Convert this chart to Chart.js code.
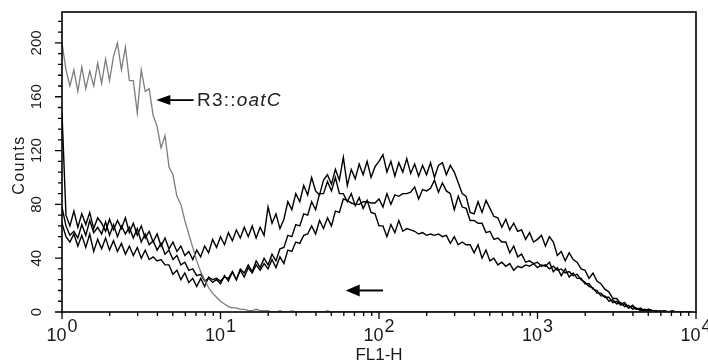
<!DOCTYPE html>
<html>
<head>
<meta charset="utf-8">
<script src="https://cdn.jsdelivr.net/npm/chart.js@4/dist/chart.umd.min.js"></script>
<style>
  html, body { margin: 0; padding: 0; background: #fff; }
  #wrap { width: 708px; height: 364px; }
</style>
</head>
<body>
<div id="wrap"><canvas id="c" width="708" height="364"></canvas></div>
<script>
// FL1-H histogram: 160 channels over four log decades (40 channels per decade)
const channelsPerDecade = 40;
const decadeExponents = ['0', '1', '2', '3', '4'];
const countTicks = [0, 40, 80, 120, 160, 200];
const xTitle = 'FL1-H';
const yTitle = 'Counts';
const strainLabel = ['R3::', 'oatC'];

// R3::oatC (grey trace)
const oatC = [
  200,180,168,180,164,182,166,179,168,185,
  170,188,172,190,200,180,197,172,172,148,
  180,164,166,146,138,122,131,108,102,86,
  80,68,58,48,38,30,24,18,14,11,
  8,6,4,3,3,2,2,1,1,2,
  1,1,1,0,0,1,0,0,1,0,
  0,0,0,0,0,0,0,1,0,0,
  0,0,0,0,0,0,0,0,0,0,
  0,0,0,0,0,0,0,0,0,0,
  0,0,0,0,0,0,0,0,0,0,
  0,0,0,0,0,0,0,0,0,0,
  0,0,0,0,0,0,0,0,0,0,
  0,0,0,0,0,0,0,0,0,0,
  0,0,0,0,0,0,0,0,0,0,
  0,0,0,0,0,0,0,0,0,0,
  0,0,0,0,0,0,0,0,0,0
];

// black traces
const traceA = [
  148,72,64,75,63,73,65,74,62,70,
  66,60,69,61,68,62,70,59,66,57,
  64,55,60,52,58,49,55,47,52,45,
  49,42,45,39,46,41,49,44,54,48,
  56,50,59,53,61,55,63,56,64,55,
  63,57,78,66,73,62,69,82,76,88,
  82,94,87,100,90,87,98,102,95,106,
  98,115,94,106,99,110,102,112,100,108,
  112,117,104,112,101,111,104,114,103,110,
  101,109,102,111,100,109,111,102,109,104,
  96,88,86,74,73,82,74,83,77,71,
  70,63,69,61,66,60,61,54,59,52,
  54,57,49,56,52,42,45,38,44,39,
  37,32,31,25,29,23,21,17,15,10,
  10,6,7,3,5,2,3,1,2,1,
  1,0,1,0,1,0,0,0,0,0
];

const traceB = [
  78,64,57,60,55,65,57,68,59,63,
  58,67,57,65,56,64,58,63,55,62,
  52,58,50,53,46,51,43,46,39,42,
  35,37,31,32,27,28,23,25,22,24,
  21,27,23,30,24,31,26,33,29,35,
  31,36,32,39,33,41,36,46,45,52,
  51,57,58,64,58,68,62,70,64,75,
  74,84,83,81,80,80,82,82,81,81,
  84,78,88,80,87,86,88,88,89,93,
  84,91,90,92,98,89,96,90,88,76,
  86,78,77,68,68,66,66,59,60,54,
  55,52,52,44,49,41,43,37,38,36,
  37,34,35,32,34,31,32,29,30,27,
  28,24,22,19,18,14,14,11,11,7,
  8,5,6,3,4,2,2,1,2,1,
  1,0,1,0,0,0,0,0,0,0
];

const traceC = [
  66,56,52,58,49,57,48,58,45,54,
  47,55,46,53,45,51,43,49,42,48,
  40,46,39,41,38,39,35,35,28,31,
  24,29,22,25,19,25,19,26,24,25,
  23,26,25,30,24,32,29,35,30,38,
  33,40,35,43,38,47,48,57,56,65,
  64,73,72,82,76,88,88,97,90,100,
  88,88,82,88,79,85,77,83,74,73,
  64,64,56,65,59,68,60,62,61,60,
  58,59,57,58,57,58,56,57,51,56,
  50,52,50,50,44,50,40,46,38,40,
  35,37,34,36,31,34,33,35,34,36,
  33,35,34,37,30,33,27,32,26,29,
  25,25,21,21,17,16,12,12,8,9,
  6,7,4,5,2,3,1,2,1,1,
  0,1,0,0,0,0,0,0,0,0
];

const channels = oatC.map((_, i) => i);
const toPoints = arr => arr.map((v, i) => ({ x: channels[i], y: v }));

// annotation anchors in data units (channel, count)
const labelArrow = { tip: [23.8, 157.5], tail: [33.2, 157.5], text: [34.1, 157.5] };
const lowArrow = { tip: [71.6, 16], tail: [81, 16] };

const FONT = '"Liberation Sans", Arial, sans-serif';

function drawArrow(ctx, x1, y1, x2, y2, headLen, headHalf, lw) {
  // x1,y1 = tail ; x2,y2 = tip
  const ang = Math.atan2(y2 - y1, x2 - x1);
  ctx.lineWidth = lw;
  ctx.beginPath();
  ctx.moveTo(x1, y1);
  ctx.lineTo(x2 - Math.cos(ang) * headLen * 0.8, y2 - Math.sin(ang) * headLen * 0.8);
  ctx.stroke();
  ctx.beginPath();
  ctx.moveTo(x2, y2);
  ctx.lineTo(x2 - Math.cos(ang) * headLen - Math.sin(ang) * headHalf, y2 - Math.sin(ang) * headLen + Math.cos(ang) * headHalf);
  ctx.lineTo(x2 - Math.cos(ang) * headLen + Math.sin(ang) * headHalf, y2 - Math.sin(ang) * headLen - Math.cos(ang) * headHalf);
  ctx.closePath();
  ctx.fill();
}

const axesPlugin = {
  id: 'histAxes',
  afterDatasetsDraw(chart) {
    const { ctx, chartArea: a, scales: { x, y } } = chart;
    ctx.save();
    ctx.strokeStyle = '#000';
    ctx.fillStyle = '#000';

    // frame
    ctx.lineWidth = 1.6;
    ctx.strokeRect(a.left, a.top, a.right - a.left, a.bottom - a.top);

    // x ticks (log decades with 2..9 minors)
    ctx.lineWidth = 1.3;
    ctx.beginPath();
    for (let d = 0; d < decadeExponents.length - 1; d++) {
      for (let k = 1; k < 10; k++) {
        const px = x.getPixelForValue(channelsPerDecade * (d + Math.log10(k)));
        const len = k === 1 ? 7 : 4;
        ctx.moveTo(px, a.bottom);
        ctx.lineTo(px, a.bottom + len);
      }
    }
    const pEnd = x.getPixelForValue(channelsPerDecade * (decadeExponents.length - 1));
    ctx.moveTo(pEnd, a.bottom);
    ctx.lineTo(pEnd, a.bottom + 7);
    ctx.stroke();

    // y ticks every 8 counts, longer at labelled values
    ctx.beginPath();
    for (let v = 0; v <= y.max; v += 8) {
      const py = y.getPixelForValue(v);
      const len = countTicks.includes(v) ? 7 : 4;
      ctx.moveTo(a.left, py);
      ctx.lineTo(a.left - len, py);
    }
    ctx.stroke();

    ctx.fillStyle = '#1a1a1a';

    // x tick labels 10^n
    ctx.font = '18px ' + FONT;
    ctx.textAlign = 'left';
    ctx.textBaseline = 'alphabetic';
    decadeExponents.forEach((e, i) => {
      const px = x.getPixelForValue(channelsPerDecade * i);
      const wb = ctx.measureText('10').width;
      const we = ctx.measureText(e).width;
      const left = px - (wb + we + 1) / 2;
      ctx.fillText('10', left, 341);
      ctx.fillText(e, left + wb + 1, 332);
    });

    // y tick labels (rotated)
    ctx.font = '15px ' + FONT;
    ctx.textAlign = 'center';
    ctx.textBaseline = 'middle';
    countTicks.forEach(v => {
      const py = y.getPixelForValue(v);
      ctx.save();
      ctx.translate(37, py);
      ctx.rotate(-Math.PI / 2);
      ctx.fillText(String(v), 0, 0);
      ctx.restore();
    });

    // axis titles
    ctx.font = '17px ' + FONT;
    ctx.textAlign = 'center';
    ctx.textBaseline = 'alphabetic';
    ctx.fillText(xTitle, x.getPixelForValue(channelsPerDecade * 2), 360);

    ctx.save();
    ctx.translate(24, 165);
    ctx.rotate(-Math.PI / 2);
    ctx.font = '16px ' + FONT;
    ctx.letterSpacing = '1.5px';
    ctx.fillText(yTitle, 0, 0);
    ctx.restore();

    // strain label with arrow
    ctx.strokeStyle = '#000';
    ctx.fillStyle = '#000';
    drawArrow(ctx,
      x.getPixelForValue(labelArrow.tail[0]), y.getPixelForValue(labelArrow.tail[1]),
      x.getPixelForValue(labelArrow.tip[0]), y.getPixelForValue(labelArrow.tip[1]),
      14, 5, 1.8);
    drawArrow(ctx,
      x.getPixelForValue(lowArrow.tail[0]), y.getPixelForValue(lowArrow.tail[1]),
      x.getPixelForValue(lowArrow.tip[0]), y.getPixelForValue(lowArrow.tip[1]),
      14, 6, 2);

    ctx.fillStyle = '#222';
    ctx.textAlign = 'left';
    ctx.textBaseline = 'middle';
    ctx.letterSpacing = '1.2px';
    const tx = x.getPixelForValue(labelArrow.text[0]);
    const ty = y.getPixelForValue(labelArrow.text[1]) + 1;
    ctx.font = '19px ' + FONT;
    ctx.fillText(strainLabel[0], tx, ty);
    const w0 = ctx.measureText(strainLabel[0]).width;
    ctx.font = 'italic 19px ' + FONT;
    ctx.fillText(strainLabel[1], tx + w0, ty);
    ctx.restore();
  }
};

const lineStyle = (color, width) => ({
  borderColor: color,
  borderWidth: width,
  pointRadius: 0,
  fill: false,
  tension: 0,
  borderJoinStyle: 'miter'
});

new Chart(document.getElementById('c'), {
  type: 'line',
  data: {
    datasets: [
      { label: 'R3::oatC', data: toPoints(oatC), ...lineStyle('#7d7d7d', 1.3) },
      { label: 'A', data: toPoints(traceA), ...lineStyle('#000', 1.4) },
      { label: 'B', data: toPoints(traceB), ...lineStyle('#000', 1.4) },
      { label: 'C', data: toPoints(traceC), ...lineStyle('#000', 1.4) }
    ]
  },
  options: {
    responsive: false,
    animation: false,
    devicePixelRatio: 1,
    layout: { padding: { top: 12, right: 12, left: 0, bottom: 0 } },
    plugins: { legend: { display: false }, tooltip: { enabled: false } },
    scales: {
      x: {
        type: 'linear', min: 0, max: channelsPerDecade * 4,
        grid: { display: false }, border: { display: false },
        ticks: { display: false },
        afterFit(s) { s.height = 52; }
      },
      y: {
        type: 'linear', min: 0, max: 223,
        grid: { display: false }, border: { display: false },
        ticks: { display: false },
        afterFit(s) { s.width = 62; }
      }
    }
  },
  plugins: [axesPlugin]
});
</script>
</body>
</html>
